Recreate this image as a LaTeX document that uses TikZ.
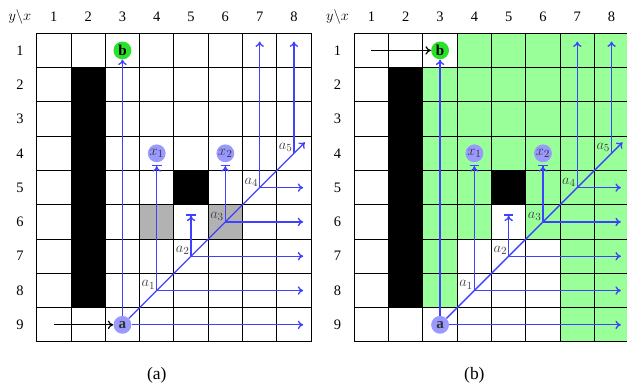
\documentclass[tikz,border=0pt]{standalone}
\usepackage{fontspec}
\setmainfont{Liberation Serif}
\usetikzlibrary{arrows.meta, positioning}

\definecolor{goalgreen}{RGB}{40,225,40}

\tikzset{
    gridline/.style={line width=0.8pt},
    wall/.style={fill=black},
    seen/.style={fill=black!30},
    reach/.style={fill=green!40},
    lab/.style={font=\fontsize{12}{14}\selectfont},
    cell/.style={circle, fill=blue!40, minimum size=0.52cm, inner sep=0pt,
                 font=\fontsize{12.5}{14}\selectfont, text=black!80},
    goal/.style={cell, fill=goalgreen, text=black},
    alab/.style={font=\fontsize{12.5}{14}\selectfont, text=black!75, inner sep=1pt},
    ray/.style={-{To[length=4.5pt,width=7pt]}, line width=1.1pt, blue!75},
    stop/.style={-{To[length=4.5pt,width=7pt] Bar[width=8pt]}, line width=1.1pt, blue!75},
    start/.style={-{To[length=4.5pt,width=7pt]}, line width=1pt, black}
}

% what both panels share; #1 is the prefix of the names
\newcommand{\raypanel}[1]{%
  % walls and grid
  \fill[wall] (1,-1) rectangle (2,-8);
  \fill[wall] (4,-4) rectangle (5,-5);
  \draw[gridline] (0,-9) grid (8,0);
  % header
  \node[lab] (#1hd) at (-0.49,0.48) {$y\backslash x$};
  \foreach \i in {1,...,8} \node[lab] (#1col\i) at (\i-0.5,0.48) {\i};
  \foreach \j in {1,...,9} \node[lab] (#1row\j) at (-0.49,0.5-\j) {\j};
  % cells
  \node[goal] (#1b) at (2.5,-0.5) {\textbf{b}};
  \node[cell] (#1a) at (2.5,-8.5) {\textbf{a}};
  \node[cell] (#1x1) at (3.5,-3.5) {$x_1$};
  \node[cell] (#1x2) at (5.5,-3.5) {$x_2$};
  \foreach \k in {1,...,5}
    \coordinate[label={[alab]above left:$a_{\k}$}] (#1a\k) at (2.5+\k,-8.5+\k);
  % free ends
  \foreach \k/\y in {0/-8.5,1/-7.5,2/-6.5,3/-5.5,4/-4.5}
    \coordinate (#1e\k) at (7.77,\y);
  \coordinate (#1d) at (7.82,-3.18);
  \coordinate (#1t4) at (6.5,-0.24);
  \coordinate (#1t5) at (7.5,-0.24);
  \coordinate (#1w2) at (4.5,-5.28);
  % rays
  \draw[ray] (#1a) -- (#1b);
  \draw[ray] (#1a) -- (#1d);
  \draw[ray] (#1a) -- (#1e0);
  \foreach \k in {1,...,4} \draw[ray] (#1a\k) -- (#1e\k);
  \draw[stop, shorten >=2pt] (#1a1) -- (#1x1);
  \draw[stop] (#1a2) -- (#1w2);
  \draw[stop, shorten >=2pt] (#1a3) -- (#1x2);
  \draw[ray] (#1a4) -- (#1t4);
  \draw[ray] (#1a5) -- (#1t5);
}

\begin{document}
\begin{tikzpicture}
\useasboundingbox (-1.07,0.97) rectangle (17.21,-10.28);

% (a)
\begin{scope}
  \fill[seen] (3,-5) rectangle (4,-6);
  \fill[seen] (5,-5) rectangle (6,-6);
  \raypanel{L}
  \coordinate (Ls) at (0.5,-8.5);
  \draw[start] (Ls) -- (La);
  \node[font=\fontsize{14.5}{16}\selectfont] (capa) at (3.5,-9.96) {(a)};
\end{scope}

% (b)
\begin{scope}[xshift=9.26cm]
  \fill[reach] (3,0) rectangle (8,-1);
  \fill[reach] (2,-1) rectangle (8,-5);
  \fill[reach] (2,-5) rectangle (4,-6);
  \fill[reach] (5,-5) rectangle (8,-6);
  \fill[reach] (2,-6) rectangle (3,-8);
  \fill[reach] (6,-6) rectangle (8,-9);
  \raypanel{R}
  \coordinate (Rs) at (0.5,-0.5);
  \draw[start] (Rs) -- (Rb);
  \node[font=\fontsize{14.5}{16}\selectfont] (capb) at (3.5,-9.96) {(b)};
\end{scope}
\end{tikzpicture}
\end{document}
